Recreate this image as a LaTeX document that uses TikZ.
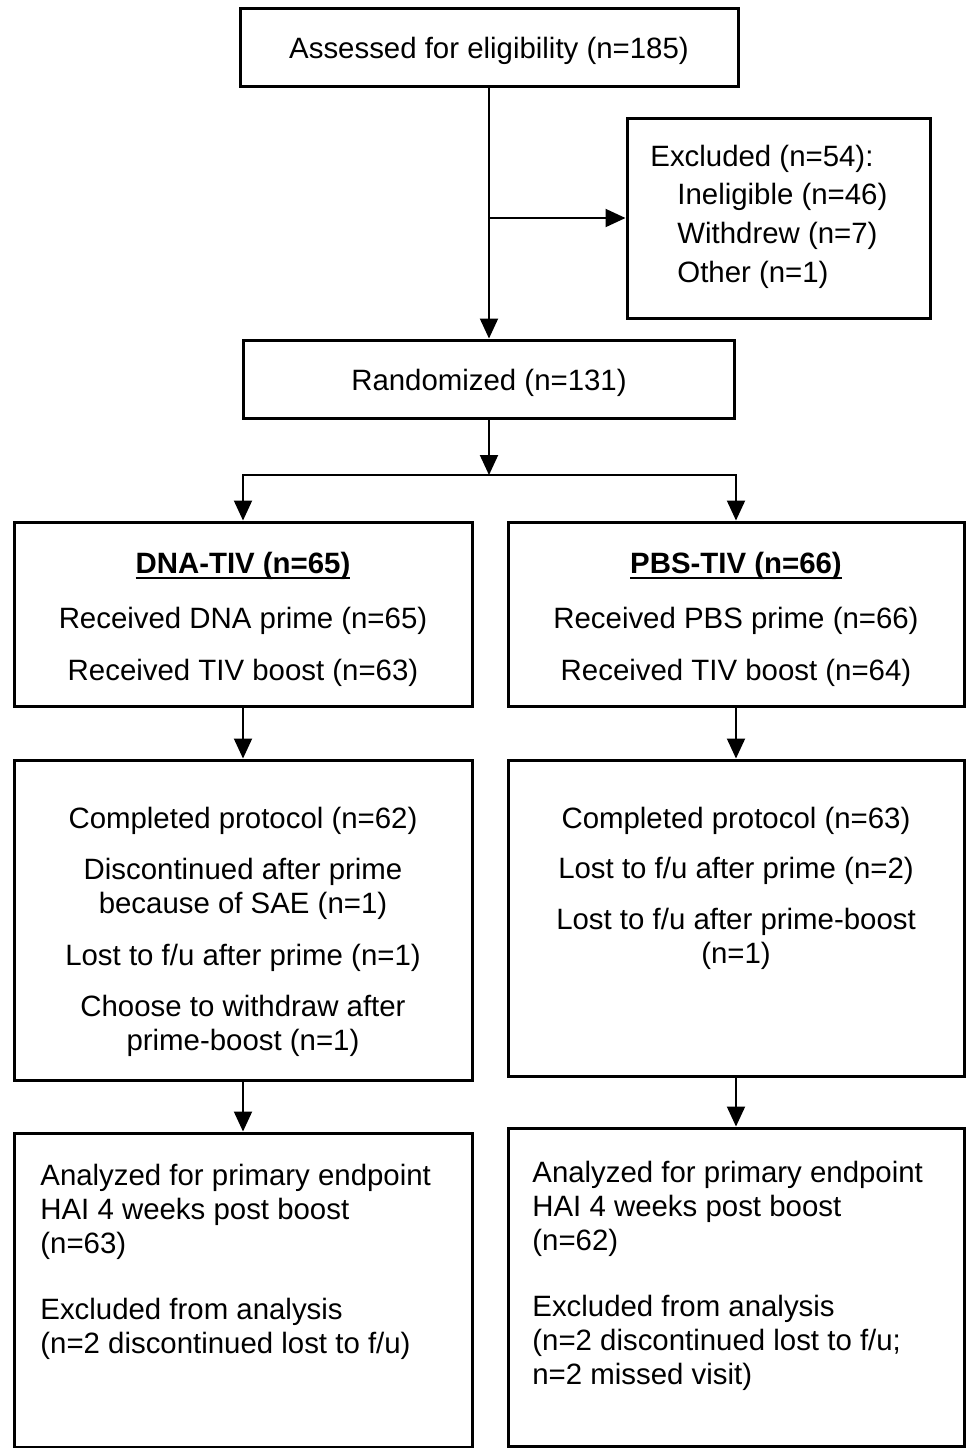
\documentclass[tikz,border=0pt]{standalone}
\usepackage{fontspec}
\setmainfont{Liberation Sans}
\usetikzlibrary{arrows.meta}
\newcommand{\ulbold}[1]{\setbox0\hbox{\textbf{#1}}\rlap{\rule[-3pt]{\wd0}{1.2pt}}\box0}

\begin{document}
\begin{tikzpicture}[x=0.5pt,y=-0.5pt,
    box/.style={draw,line width=1.5pt,inner sep=0pt},
    txt/.style={inner sep=0pt,anchor=base,font=\fontsize{14.7}{17}\selectfont},
    arr/.style={-{Triangle[width=9pt,length=10pt]},line width=1pt}]
    \useasboundingbox (0,0) rectangle (966,1448);

    % boxes
    \node[box,txt,anchor=center,text height=11.6pt,text depth=0pt,minimum width=249pt,minimum height=39pt] (assess) at (489,47) {Assessed for eligibility (n=185)};
    \node[box,minimum width=151.5pt,minimum height=100pt] (excl) at (778.5,218) {};
    \node[box,txt,anchor=center,text height=11.6pt,text depth=0pt,minimum width=245.5pt,minimum height=39pt] (rand) at (489,379) {Randomized (n=131)};
    \node[box,minimum width=229pt,minimum height=92pt] (dna) at (243,614) {};
    \node[box,minimum width=228pt,minimum height=92pt] (pbs) at (736,614) {};
    \node[box,minimum width=229pt,minimum height=160pt] (dnaout) at (243,920) {};
    \node[box,minimum width=228pt,minimum height=158pt] (pbsout) at (736,918) {};
    \node[box,minimum width=229pt,minimum height=157pt] (dnaan) at (243,1290) {};
    \node[box,minimum width=228pt,minimum height=159pt] (pbsan) at (736,1287) {};

    % texts (base of a multi-line node = its last line)
    \node[txt,anchor=base west,align=left,font=\fontsize{14.7}{19.3}\selectfont] (excl-t) at (650,282)
        {Excluded (n=54):\\\hspace*{13.5pt}Ineligible (n=46)\\\hspace*{13.5pt}Withdrew (n=7)\\\hspace*{13.5pt}Other (n=1)};

    \node[txt] (dna-t1) at (243,573) {\ulbold{DNA-TIV (n=65)}};
    \node[txt] (dna-t2) at (243,628) {Received DNA prime (n=65)};
    \node[txt] (dna-t3) at (243,680) {Received TIV boost (n=63)};
    \node[txt] (pbs-t1) at (736,573) {\ulbold{PBS-TIV (n=66)}};
    \node[txt] (pbs-t2) at (736,628) {Received PBS prime (n=66)};
    \node[txt] (pbs-t3) at (736,680) {Received TIV boost (n=64)};

    \node[txt] (dnaout-t1) at (243,828) {Completed protocol (n=62)};
    \node[txt,align=center] (dnaout-t2) at (243,913) {Discontinued after prime\\because of SAE (n=1)};
    \node[txt] (dnaout-t3) at (243,965) {Lost to f/u after prime (n=1)};
    \node[txt,align=center] (dnaout-t4) at (243,1050) {Choose to withdraw after\\prime-boost (n=1)};
    \node[txt] (pbsout-t1) at (736,828) {Completed protocol (n=63)};
    \node[txt] (pbsout-t2) at (736,878) {Lost to f/u after prime (n=2)};
    \node[txt,align=center] (pbsout-t3) at (736,963) {Lost to f/u after prime-boost\\(n=1)};

    \node[txt,anchor=base west,align=left] (dnaan-t1) at (40,1253) {Analyzed for primary endpoint\\HAI 4 weeks post boost\\(n=63)};
    \node[txt,anchor=base west,align=left] (dnaan-t2) at (40,1353) {Excluded from analysis\\(n=2 discontinued lost to f/u)};
    \node[txt,anchor=base west,align=left] (pbsan-t1) at (532,1250) {Analyzed for primary endpoint\\HAI 4 weeks post boost\\(n=62)};
    \node[txt,anchor=base west,align=left] (pbsan-t2) at (532,1384) {Excluded from analysis\\(n=2 discontinued lost to f/u;\\n=2 missed visit)};

    % connectors
    \coordinate (split) at (489,475);
    \draw[arr] (assess) -- (rand);
    \draw[arr] (assess.south |- excl.west) -- (excl.west);
    \draw[arr] (rand) -- (split);
    \draw[arr] (split) -| (dna);
    \draw[arr] (split) -| (pbs);
    \draw[arr] (dna) -- (dnaout);
    \draw[arr] (pbs) -- (pbsout);
    \draw[arr] (dnaout) -- (dnaan);
    \draw[arr] (pbsout) -- (pbsan);
\end{tikzpicture}
\end{document}
